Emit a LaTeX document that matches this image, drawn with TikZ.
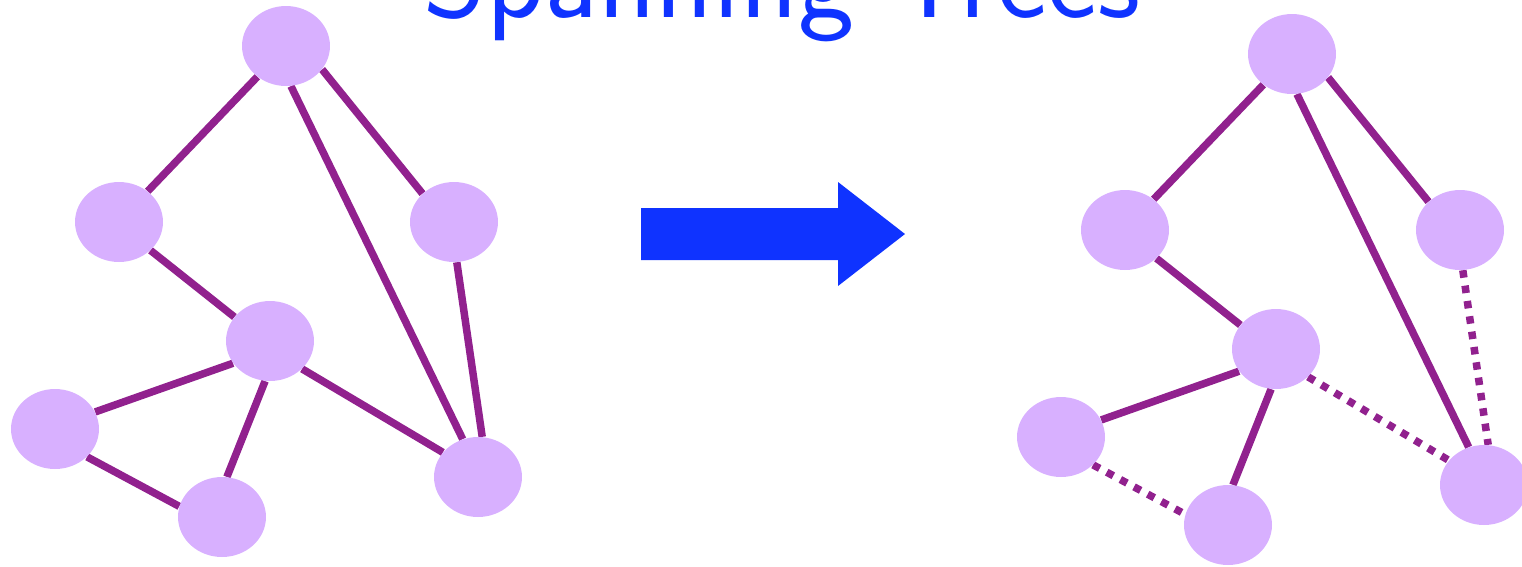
\documentclass[tikz,border=0pt]{standalone}
\usetikzlibrary{shapes.geometric,backgrounds}
\definecolor{vertexfill}{RGB}{216,176,255}
\definecolor{edgepurple}{RGB}{145,33,142}
\definecolor{titleblue}{RGB}{15,51,255}
\tikzset{
	vertex/.style={ellipse,fill=vertexfill,minimum width=1.76cm,minimum height=1.6cm,inner sep=0pt},
	edge/.style={draw=edgepurple,line width=0.15cm},
	cutedge/.style={edge,dash pattern=on 0.15cm off 0.16cm},
}
\begin{document}
\begin{tikzpicture}[x=0.02cm,y=-0.02cm]
		\useasboundingbox (0,0) rectangle (1522,566);
		\node[text=titleblue,font=\sffamily\fontsize{68}{74}\selectfont,anchor=base] (title) at (782,17) {Spanning Trees};
		% the full graph
		\node[vertex] (top) at (286,46) {};
		\node[vertex] (left) at (119,222) {};
		\node[vertex] (right) at (454,222) {};
		\node[vertex] (mid) at (270,341) {};
		\node[vertex] (far) at (55,429) {};
		\node[vertex] (low) at (222,517) {};
		\node[vertex] (corner) at (478,477) {};
		% the spanning tree
		\node[vertex] (top2) at (1292,54) {};
		\node[vertex] (left2) at (1125,230) {};
		\node[vertex] (right2) at (1460,230) {};
		\node[vertex] (mid2) at (1276,349) {};
		\node[vertex] (far2) at (1061,437) {};
		\node[vertex] (low2) at (1228,525) {};
		\node[vertex] (corner2) at (1484,485) {};
		\begin{pgfonlayer}{background}
		\draw[edge] (top.227) -- (left.47)
		(top.-33) -- (right.138)
		(top.-83) -- (corner.112)
		(left.-42) -- (mid.146)
		(right.-86) -- (corner.84)
		(mid.211) -- (far.23)
		(mid.-97) -- (low.83)
		(mid.-41) -- (corner.145)
		(far.-41) -- (low.166);
		\draw[edge] (top2.227) -- (left2.47)
		(top2.-33) -- (right2.138)
		(top2.-83) -- (corner2.112)
		(left2.-42) -- (mid2.146)
		(mid2.211) -- (far2.23)
		(mid2.-97) -- (low2.83);
		\draw[cutedge] (right2.-86) -- (corner2.84)
		(mid2.-41) -- (corner2.145)
		(far2.-41) -- (low2.166);
		\end{pgfonlayer}
		\fill[titleblue] (641,208) -- (838,208) -- (838,182) -- (905,234) -- (838,286) -- (838,260) -- (641,260) -- cycle;
	\end{tikzpicture}
\end{document}
